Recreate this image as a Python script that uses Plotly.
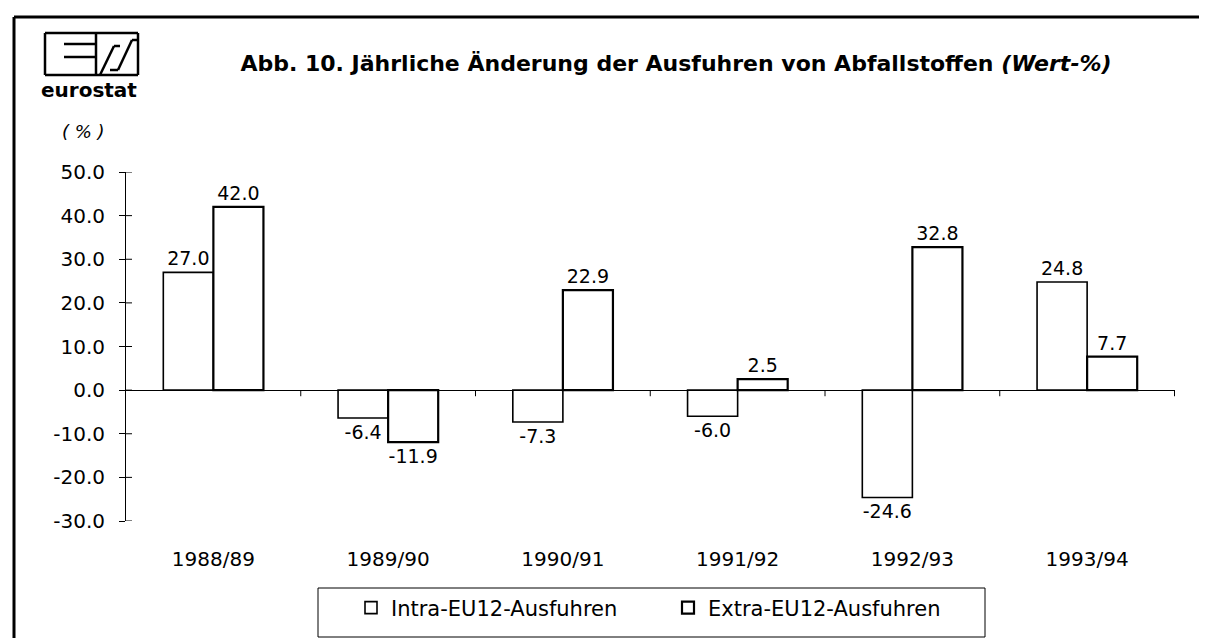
import plotly.graph_objects as go

categories = ["1988/89", "1989/90", "1990/91", "1991/92", "1992/93", "1993/94"]
intra_values = [27.0, -6.4, -7.3, -6.0, -24.6, 24.8]
extra_values = [42.0, -11.9, 22.9, 2.5, 32.8, 7.7]
series_names = ["Intra-EU12-Ausfuhren", "Extra-EU12-Ausfuhren"]
y_tick_values = [50, 40, 30, 20, 10, 0, -10, -20, -30]
y_tick_labels = [f"{v:.1f}" for v in y_tick_values]

W, H = 1207, 638
L, R, T, B = 118, 1167, 164, 513
FONT = "DejaVu Sans"


def px(x):
    return (x - L) / (R - L)


def py(y):
    return (B - y) / (B - T)


fig = go.Figure()
for name, vals, lw in [(series_names[0], intra_values, 1.6), (series_names[1], extra_values, 2.2)]:
    fig.add_trace(go.Bar(
        x=categories, y=vals, name=name,
        marker=dict(color="white", line=dict(color="black", width=lw)),
        text=[f"{v:.1f}" for v in vals], textposition="outside",
        textfont=dict(family=FONT, size=19, color="black"),
        cliponaxis=False,
    ))

shapes = []
# category boundary ticks on the zero line
for i in range(len(categories)):
    shapes.append(dict(type="line", xref="x", yref="y", x0=i + 0.5, x1=i + 0.5,
                       y0=0, y1=-1.4, line=dict(color="black", width=1)))
# inner part of the y-axis ticks (they cross the axis)
for v in y_tick_values:
    shapes.append(dict(type="line", xref="paper", yref="y", x0=0, x1=px(L + 6),
                       y0=v, y1=v, line=dict(color="black", width=1)))
# outer frame (top and left)
shapes.append(dict(type="line", xref="paper", yref="paper", x0=px(6), x1=px(1207),
                   y0=py(9), y1=py(9), line=dict(color="black", width=3)))
shapes.append(dict(type="line", xref="paper", yref="paper", x0=px(6), x1=px(6),
                   y0=py(9), y1=py(638), line=dict(color="black", width=3)))
# legend box
shapes.append(dict(type="rect", xref="paper", yref="paper", x0=px(310), x1=px(977),
                   y0=py(580), y1=py(629), line=dict(color="black", width=1)))
# eurostat logo
logo_lines = [
    (37, 25, 130, 25), (37, 67, 130, 67), (37, 25, 37, 67), (130, 25, 130, 67),
    (56, 36, 88, 36), (56, 49, 88, 49), (88, 25, 88, 67),
    (92, 67, 106, 38), (106, 38, 112, 38),
    (102, 62, 110, 62), (110, 62, 124, 32), (124, 32, 130, 32),
]
for x0, y0, x1, y1 in logo_lines:
    shapes.append(dict(type="line", xref="paper", yref="paper", x0=px(x0), x1=px(x1),
                       y0=py(y0), y1=py(y1), line=dict(color="black", width=2.5)))

annotations = [
    dict(text="<b>eurostat</b>", xref="paper", yref="paper", x=px(81), y=py(82),
         xanchor="center", yanchor="middle", showarrow=False,
         font=dict(family=FONT, size=20, color="black")),
    dict(text="<i>( % )</i>", xref="paper", yref="paper", x=px(75), y=py(123),
         xanchor="center", yanchor="middle", showarrow=False,
         font=dict(family=FONT, size=18, color="black")),
]

fig.update_layout(
    width=W, height=H, autosize=False,
    margin=dict(l=L, r=W - R, t=T, b=H - B),
    paper_bgcolor="white", plot_bgcolor="white",
    barmode="group", bargap=0.427, bargroupgap=0,
    title=dict(text="<b>Abb. 10. Jährliche Änderung der Ausfuhren von Abfallstoffen <i>(Wert-%)</i></b>",
               xref="paper", x=px(668), xanchor="center",
               yref="container", y=1 - 55 / H, yanchor="middle",
               font=dict(family=FONT, size=22, color="black")),
    font=dict(family=FONT, color="black"),
    xaxis=dict(showline=False, ticks="", showgrid=False, zeroline=False,
               tickfont=dict(family=FONT, size=20, color="black"),
               ticklabelstandoff=24),
    yaxis=dict(range=[-30, 50], tickvals=y_tick_values, ticktext=y_tick_labels,
               showline=True, linecolor="black", linewidth=1,
               ticks="outside", ticklen=6, tickcolor="black",
               showgrid=False, zeroline=True, zerolinecolor="black", zerolinewidth=1,
               tickfont=dict(family=FONT, size=20, color="black"),
               ticklabelstandoff=10),
    showlegend=True,
    legend=dict(orientation="h", x=px(343), xanchor="left", y=py(600), yanchor="middle",
                xref="paper", yref="paper",
                font=dict(family=FONT, size=21, color="black"),
                itemwidth=30, entrywidth=272, bgcolor="rgba(0,0,0,0)", borderwidth=0,
                traceorder="normal"),
    shapes=shapes,
    annotations=annotations,
)

fig.write_html("out.html")
